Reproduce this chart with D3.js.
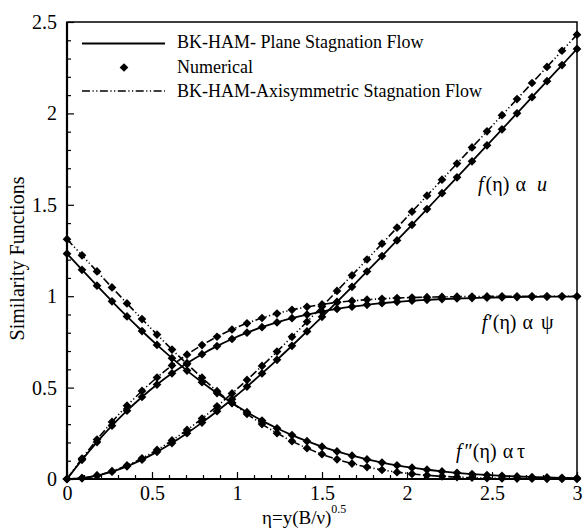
<!DOCTYPE html>
<html><head><meta charset="utf-8">
<script src="https://cdn.jsdelivr.net/npm/d3@7"></script>
<style>body{margin:0;background:#fff} text{font-family:"Liberation Serif","Times New Roman",Times,serif;fill:#000}</style>
</head><body><svg id="c" width="584" height="530"></svg>
<script>
// eta grid of the numerical solution
const eta = [0, 0.0882, 0.1765, 0.2647, 0.3529, 0.4412, 0.5294, 0.6176, 0.7059, 0.7941, 0.8824, 0.9706, 1.0588, 1.1471, 1.2353, 1.3235, 1.4118, 1.5, 1.5882, 1.6765, 1.7647, 1.8529, 1.9412, 2.0294, 2.1176, 2.2059, 2.2941, 2.3824, 2.4706, 2.5588, 2.6471, 2.7353, 2.8235, 2.9118, 3.0];
// plane stagnation flow
const planeF   = [0, 0.0047, 0.0183, 0.0401, 0.0695, 0.1058, 0.1485, 0.1968, 0.2503, 0.3084, 0.3706, 0.4365, 0.5057, 0.5776, 0.6521, 0.7288, 0.8073, 0.8874, 0.9688, 1.0515, 1.1352, 1.2197, 1.3049, 1.3907, 1.4769, 1.5636, 1.6506, 1.7378, 1.8253, 1.9129, 2.0006, 2.0885, 2.1765, 2.2645, 2.3526];
const planeFp  = [0, 0.1049, 0.2020, 0.2915, 0.3736, 0.4485, 0.5166, 0.5781, 0.6334, 0.6828, 0.7269, 0.7659, 0.8004, 0.8305, 0.8568, 0.8796, 0.8993, 0.9162, 0.9305, 0.9428, 0.9531, 0.9618, 0.9691, 0.9751, 0.9801, 0.9841, 0.9874, 0.9900, 0.9922, 0.9939, 0.9953, 0.9964, 0.9972, 0.9979, 0.9984];
const planeFpp = [1.2326, 1.1445, 1.0574, 0.9721, 0.8893, 0.8095, 0.7333, 0.6611, 0.5930, 0.5292, 0.4700, 0.4156, 0.3654, 0.3194, 0.2777, 0.2403, 0.2068, 0.1770, 0.1507, 0.1275, 0.1073, 0.0898, 0.0746, 0.0617, 0.0507, 0.0414, 0.0336, 0.0272, 0.0218, 0.0174, 0.0138, 0.0108, 0.0084, 0.0065, 0.0051];
// axisymmetric stagnation flow
const axiF   = [0, 0.0050, 0.0195, 0.0429, 0.0744, 0.1134, 0.1592, 0.2112, 0.2686, 0.3310, 0.3977, 0.4682, 0.5419, 0.6183, 0.6972, 0.7779, 0.8603, 0.9440, 1.0288, 1.1144, 1.2007, 1.2875, 1.3747, 1.4622, 1.5499, 1.6377, 1.7257, 1.8137, 1.9018, 1.9900, 2.0781, 2.1663, 2.2545, 2.3427, 2.4309];
const axiFp  = [0, 0.1119, 0.2159, 0.3123, 0.4009, 0.4818, 0.5552, 0.6213, 0.6803, 0.7325, 0.7782, 0.8179, 0.8519, 0.8808, 0.9051, 0.9252, 0.9418, 0.9552, 0.9659, 0.9743, 0.9809, 0.9859, 0.9898, 0.9927, 0.9948, 0.9963, 0.9974, 0.9982, 0.9987, 0.9991, 0.9993, 0.9995, 0.9996, 0.9997, 0.9997];
const axiFpp = [1.3119, 1.2237, 1.1355, 1.0477, 0.9606, 0.8746, 0.7903, 0.7083, 0.6294, 0.5540, 0.4805, 0.4167, 0.3558, 0.3004, 0.2507, 0.2068, 0.1684, 0.1355, 0.1077, 0.0844, 0.0653, 0.0498, 0.0375, 0.0279, 0.0204, 0.0147, 0.0104, 0.0073, 0.0050, 0.0034, 0.0023, 0.0015, 0.0009, 0.0006, 0.0003];

const xMajor = [0, 0.5, 1, 1.5, 2, 2.5, 3];
const yMajor = [0, 0.5, 1, 1.5, 2, 2.5];
const xMinor = [0.1,0.2,0.3,0.4,0.6,0.7,0.8,0.9,1.1,1.2,1.3,1.4,1.6,1.7,1.8,1.9,2.1,2.2,2.3,2.4,2.6,2.7,2.8,2.9];
const yMinor = [0.1,0.2,0.3,0.4,0.6,0.7,0.8,0.9,1.1,1.2,1.3,1.4,1.6,1.7,1.8,1.9,2.1,2.2,2.3,2.4];
const legendLabels = ["BK-HAM- Plane Stagnation Flow", "Numerical", "BK-HAM-Axisymmetric Stagnation Flow"];

const FONT = "'Liberation Serif','Times New Roman',Times,serif";
const svg = d3.select("#c");
const x = d3.scaleLinear().domain([0, 3]).range([67, 577]);
const y = d3.scaleLinear().domain([0, 2.5]).range([479, 22]);
const DASH = "8,2.5,1.2,2.5,1.2,2.5";

// axes
const fmt = d => d3.format("")(d);
const gx = svg.append("g").attr("transform", `translate(0,${y(0)})`)
  .call(d3.axisBottom(x).tickValues(xMajor).tickSize(-7).tickSizeOuter(0).tickPadding(7).tickFormat(fmt));
const gxm = svg.append("g").attr("transform", `translate(0,${y(0)})`)
  .call(d3.axisBottom(x).tickValues(xMinor).tickSize(-4).tickSizeOuter(0).tickFormat(""));
const gy = svg.append("g").attr("transform", `translate(${x(0)},0)`)
  .call(d3.axisLeft(y).tickValues(yMajor).tickSize(-7).tickSizeOuter(0).tickPadding(10).tickFormat(fmt));
const gym = svg.append("g").attr("transform", `translate(${x(0)},0)`)
  .call(d3.axisLeft(y).tickValues(yMinor).tickSize(-4).tickSizeOuter(0).tickFormat(""));
[gx, gxm, gy, gym].forEach(g => {
  g.attr("font-family", FONT);
  g.select(".domain").remove();
  g.selectAll("line").attr("stroke", "#000").attr("stroke-width", 1.2);
  g.selectAll("text").attr("font-size", 20);
});

// frame
svg.append("rect").attr("x", x(0)).attr("y", y(2.5)).attr("width", x(3) - x(0)).attr("height", y(0) - y(2.5))
  .attr("fill", "none").attr("stroke", "#000").attr("stroke-width", 1.5);
svg.append("line").attr("x1", x(0)).attr("x2", x(0)).attr("y1", y(2.5)).attr("y2", y(0) + 1).attr("stroke", "#000").attr("stroke-width", 2.2);
svg.append("line").attr("x1", x(0) - 1).attr("x2", x(3)).attr("y1", y(0)).attr("y2", y(0)).attr("stroke", "#000").attr("stroke-width", 2.2);

// curves
const line = d3.line().x((d, i) => x(eta[i])).y(d => y(d)).curve(d3.curveCatmullRom.alpha(0.5));
const plane = [planeF, planeFp, planeFpp];
const axi = [axiF, axiFp, axiFpp];
axi.forEach(s => svg.append("path").attr("d", line(s)).attr("fill", "none").attr("stroke", "#000")
  .attr("stroke-width", 1.6).attr("stroke-dasharray", DASH));
plane.forEach(s => svg.append("path").attr("d", line(s)).attr("fill", "none").attr("stroke", "#000")
  .attr("stroke-width", 1.8));

const sym = d3.symbol(d3.symbolSquare, 38);
[...plane, ...axi].forEach(s => {
  svg.append("g").selectAll("path").data(s).join("path")
    .attr("d", sym).attr("fill", "#000")
    .attr("transform", (d, i) => `translate(${x(eta[i])},${y(d)}) rotate(45)`);
});

// legend
const lg = svg.append("g");
lg.append("line").attr("x1", 82).attr("x2", 165).attr("y1", 43.5).attr("y2", 43.5).attr("stroke", "#000").attr("stroke-width", 1.8);
lg.append("path").attr("d", sym).attr("fill", "#000").attr("transform", "translate(124,67.5) rotate(45)");
lg.append("line").attr("x1", 82).attr("x2", 165).attr("y1", 91).attr("y2", 91).attr("stroke", "#000").attr("stroke-width", 1.6).attr("stroke-dasharray", DASH);
legendLabels.forEach((t, i) => lg.append("text").attr("x", 177).attr("y", [48, 72.5, 96.5][i]).attr("font-size", 18).text(t));

// axis titles
svg.append("text").attr("transform", `translate(24,${(y(0) + y(2.5)) / 2 + 8}) rotate(-90)`)
  .attr("text-anchor", "middle").attr("font-size", 20).text("Similarity Functions");
const xt = svg.append("text").attr("x", 262).attr("y", 524).attr("font-size", 19);
xt.append("tspan").text("η=y(B/ν)");
xt.append("tspan").attr("font-size", 12).attr("dy", -11).text("0.5");

// curve annotations
function ann(ex, vy, parts) {
  const t = svg.append("text").attr("x", x(ex)).attr("y", y(vy)).attr("font-size", 20);
  parts.forEach(p => {
    const s = t.append("tspan").text(p[0]);
    if (p[1]) s.attr("font-style", "italic");
    if (p[2]) s.attr("dx", p[2]);
  });
}
ann(2.418, 1.576, [["f", true], ["(η)", false, 2], ["α", false, 6], ["u", true, 11]]);
ann(2.44, 0.82, [["f", true], ["′(η)", false, 1], ["α", false, 6], ["ψ", false, 8]]);
ann(2.288, 0.115, [["f", true], ["″(η)", false, 3], ["α", false, 6], ["τ", false, 4]]);

svg.selectAll("text").attr("font-family", FONT);
</script></body></html>
